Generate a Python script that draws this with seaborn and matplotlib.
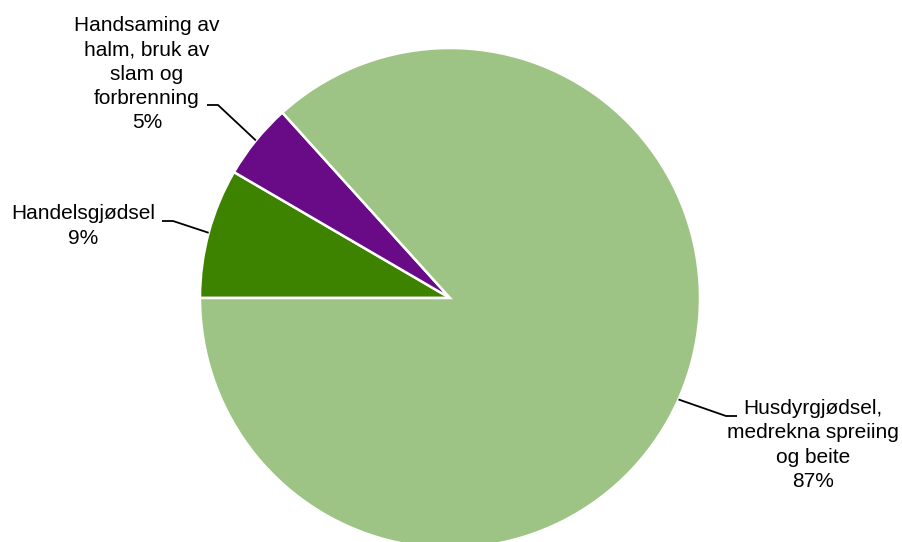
import numpy as np
import seaborn as sns
import matplotlib.pyplot as plt

labels = [
    "Handelsgjødsel",
    "Handsaming av\nhalm, bruk av\nslam og\nforbrenning",
    "Husdyrgjødsel,\nmedrekna spreiing\nog beite",
]
shares = [8.4, 4.9, 86.7]
pct_text = ["9%", "5%", "87%"]
colors = ["#3d8300", "#690a87", "#9ec485"]

# pixel layout of the reference (centre and radius of the pie)
CX, CY, R = 450, 298, 250
W, H = 903, 542


def px(x, y):
    return (x - CX) / R, (CY - y) / R


# text block centres and leader elbows, in pixels
text_pos = [(83, 226), (147, 74), (813, 445)]
elbow_pos = [[(173, 221), (162, 221)], [(218, 105), (207, 105)], [(726, 416), (737, 416)]]

sns.set_theme(style="white")
plt.rcParams["font.family"] = ["Liberation Sans", "DejaVu Sans"]

fig = plt.figure(figsize=(W / 100, H / 100), dpi=100)
ax = fig.add_axes([0, 0, 1, 1])

wedges, _ = ax.pie(
    shares,
    colors=colors,
    startangle=180,
    counterclock=False,
    radius=1,
    wedgeprops=dict(edgecolor="white", linewidth=1.8),
)

for w, lab, pct, tp, elbows in zip(wedges, labels, pct_text, text_pos, elbow_pos):
    mid = np.deg2rad((w.theta1 + w.theta2) / 2)
    pts = [(np.cos(mid), np.sin(mid))] + [px(*e) for e in elbows]
    xs, ys = zip(*pts)
    ax.plot(xs, ys, color="black", lw=1.3, solid_capstyle="butt")
    tx, ty = px(*tp)
    ax.text(tx, ty, lab + "\n" + pct, ha="center", va="center",
            fontsize=15, linespacing=1.36, color="black")

ax.set_xlim(-CX / R, (W - CX) / R)
ax.set_ylim(-(H - CY) / R, CY / R)
ax.set_aspect("auto")
ax.axis("off")

fig.savefig("out.png", dpi=100, facecolor="white")
